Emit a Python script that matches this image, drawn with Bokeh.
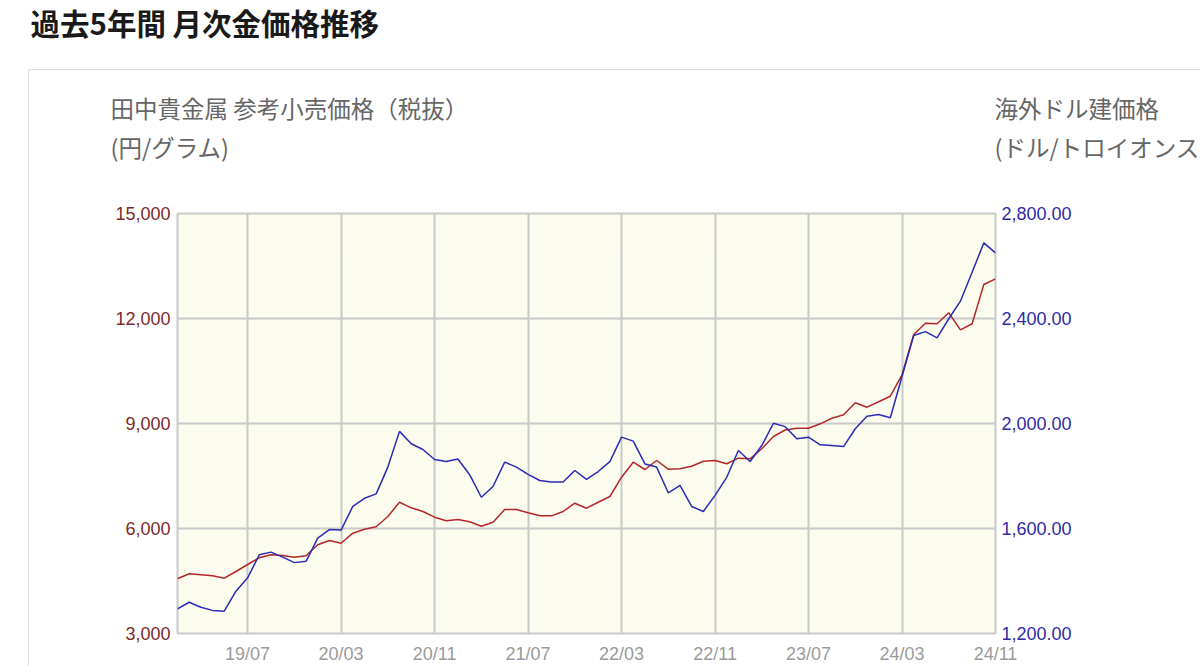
from bokeh.plotting import figure
from bokeh.layouts import column, row
from bokeh.models import Range1d, LinearAxis, FixedTicker, NumeralTickFormatter, Label, Div
from bokeh.embed import file_html
from bokeh.resources import INLINE

# monthly series, 2019/01 .. 2024/11
months = [f"{y % 100:02d}/{m:02d}" for y in range(2019, 2025) for m in range(1, 13)][:71]

yen = [4563, 4706, 4677, 4649, 4580, 4771, 4971, 5163, 5249, 5229,
       5180, 5220, 5534, 5657, 5580, 5866, 5980, 6050, 6343, 6751,
       6591, 6486, 6323, 6220, 6257, 6191, 6066, 6180, 6543, 6543,
       6448, 6362, 6362, 6486, 6723, 6580, 6751, 6914, 7466, 7894,
       7686, 7943, 7694, 7706, 7780, 7923, 7943, 7849, 8009, 7991,
       8277, 8629, 8815, 8866, 8866, 8991, 9151, 9249, 9591, 9466,
       9620, 9780, 10391, 11543, 11866, 11849, 12163, 11677, 11849, 12971,
       13134]

usd = [1294, 1319, 1300, 1288, 1285, 1361, 1412, 1500, 1510, 1491,
       1470, 1475, 1563, 1596, 1594, 1684, 1715, 1732, 1834, 1970,
       1923, 1901, 1863, 1855, 1865, 1805, 1719, 1760, 1853, 1834,
       1806, 1783, 1777, 1777, 1821, 1787, 1817, 1855, 1948, 1933,
       1846, 1834, 1736, 1764, 1684, 1665, 1726, 1795, 1897, 1855,
       1916, 2001, 1988, 1942, 1948, 1919, 1916, 1912, 1980, 2028,
       2034, 2022, 2179, 2335, 2350, 2326, 2399, 2466, 2576, 2688,
       2650]

x_tick_labels = ["19/07", "20/03", "20/11", "21/07", "22/03", "22/11", "23/07", "24/03", "24/11"]
yen_ticks = [3000, 6000, 9000, 12000, 15000]
usd_ticks = [1200, 1600, 2000, 2400, 2800]

title = "過去5年間 月次金価格推移"
left_title = ["田中貴金属 参考小売価格（税抜）", "(円/グラム)"]
right_title = ["海外ドル建価格", "(ドル/トロイオンス)"]

x = list(range(len(months)))
x_ticks = [months.index(t) for t in x_tick_labels]

JP = "Noto Sans CJK JP"
NUM = "Liberation Sans"
GRID = "#c9c9c9"
BOX = "#dcdcdc"

W, H = 1200, 666
HEAD = 190      # header strip height
STRIP = 60      # left strip width next to the chart

# header: title, axis captions, top edge of the panel box
head = figure(width=W, height=HEAD, output_backend="svg", toolbar_location=None,
              x_range=Range1d(0, W), y_range=Range1d(HEAD, 0),
              x_axis_type=None, y_axis_type=None, min_border=0,
              outline_line_color=None, border_fill_color="white",
              background_fill_color="white")
head.grid.visible = False
head.segment(x0=[28, 28], y0=[69, 69], x1=[W, 28], y1=[69, HEAD], line_color=BOX, line_width=1)
head.add_layout(Label(x=30, y=21, text=title, text_font=JP, text_font_style="bold",
                      text_font_size="29.5px", text_color="#1a1a1a", text_baseline="middle"))
for k, t in enumerate(left_title):
    head.add_layout(Label(x=110, y=107 + 39 * k, text=t, text_font=JP, text_font_size="23.5px",
                          text_color="#666666", text_baseline="middle"))
for k, t in enumerate(right_title):
    head.add_layout(Label(x=994, y=107 + 39 * k, text=t, text_font=JP, text_font_size="23.5px",
                          text_color="#666666", text_baseline="middle"))

# left strip: the rest of the box's left edge
side = Div(text=f'<div style="margin-left:28px;width:0;height:{H - HEAD}px;'
                f'border-left:1px solid {BOX}"></div>',
           width=STRIP, height=H - HEAD, margin=0)

# chart
p = figure(width=W - STRIP, height=H - HEAD, output_backend="svg", toolbar_location=None,
           x_range=Range1d(0, len(months) - 1),
           y_range=Range1d(yen_ticks[0], yen_ticks[-1]),
           min_border_left=177 - STRIP, min_border_right=205,
           min_border_top=213 - HEAD, min_border_bottom=33,
           background_fill_color="#fbfbee", border_fill_color="white",
           outline_line_color=GRID, outline_line_width=2)
p.extra_y_ranges = {"usd": Range1d(usd_ticks[0], usd_ticks[-1])}

p.xaxis.ticker = FixedTicker(ticks=x_ticks)
p.xaxis.major_label_overrides = {i: t for i, t in zip(x_ticks, x_tick_labels)}
p.yaxis.ticker = FixedTicker(ticks=yen_ticks)
p.yaxis.formatter = NumeralTickFormatter(format="0,0")

right = LinearAxis(y_range_name="usd", ticker=FixedTicker(ticks=usd_ticks),
                   formatter=NumeralTickFormatter(format="0,0.00"))
p.add_layout(right, "right")

for ax in p.axis:
    ax.axis_line_color = None
    ax.major_tick_line_color = None
    ax.minor_tick_line_color = None
    ax.major_tick_out = 0
    ax.major_tick_in = 0
    ax.major_label_text_font = NUM
    ax.major_label_text_font_size = "18px"
p.xaxis.major_label_text_color = "#9a9a9a"
p.xaxis.major_label_standoff = 10
p.yaxis[0].major_label_text_color = "#7c2a2a"
p.yaxis[0].major_label_standoff = 7
right.major_label_text_color = "#2e2aa6"
right.major_label_standoff = 6

p.grid.grid_line_color = GRID
p.grid.grid_line_width = 2

p.line(x, yen, line_color="#b3272b", line_width=1.5)
p.line(x, usd, y_range_name="usd", line_color="#2b2bb5", line_width=1.5)

page = column(head, row(side, p, spacing=0), spacing=0)

open("out.html", "w").write(file_html(page, INLINE))
